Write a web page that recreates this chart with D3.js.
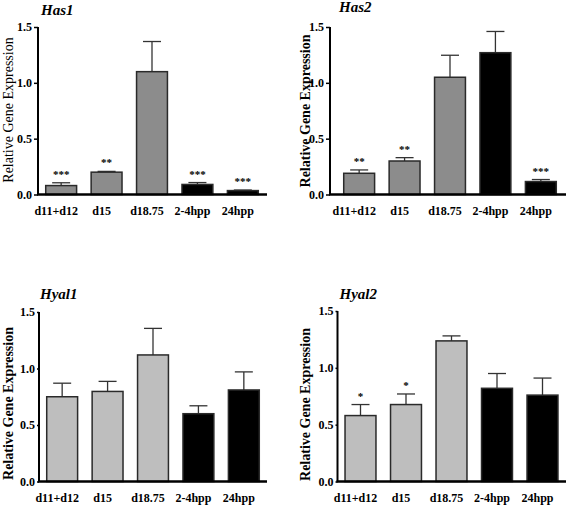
<!DOCTYPE html>
<html><head><meta charset="utf-8">
<script src="https://cdn.jsdelivr.net/npm/d3@7"></script>
<style>body{margin:0;background:#fff}svg{display:block}</style>
</head><body>
<svg id="c" width="566" height="526"></svg>
<script>
const categories = ["d11+d12","d15","d18.75","2-4hpp","24hpp"];
const yTicks = [0, 0.5, 1.0, 1.5];
const yTickLabels = ["0.0","0.5","1.0","1.5"];

const has1Mean = [0.08, 0.20, 1.10, 0.09, 0.035];
const has1Err  = [0.105, 0.207, 1.37, 0.107, 0.04];
const has1Sig  = ["***","**","","***","***"];

const has2Mean = [0.19, 0.30, 1.05, 1.27, 0.116];
const has2Err  = [0.22, 0.33, 1.247, 1.46, 0.134];
const has2Sig  = ["**","**","","","***"];

const hyal1Mean = [0.75, 0.797, 1.12, 0.60, 0.81];
const hyal1Err  = [0.87, 0.886, 1.355, 0.67, 0.97];
const hyal1Sig  = ["","","","",""];

const hyal2Mean = [0.58, 0.677, 1.237, 0.82, 0.76];
const hyal2Err  = [0.677, 0.77, 1.281, 0.95, 0.91];
const hyal2Sig  = ["*","*","","",""];

const svg = d3.select("#c");
const FONT = "Liberation Serif";

function panel(o){
  const g = svg.append("g");
  const y = d3.scaleLinear().domain([0,1.5]).range([o.y0, o.y15]);
  const x = d3.scaleBand().domain(categories).range([o.b0 - 7.25, o.b1 + 7.25])
              .paddingInner(0.32).paddingOuter(0.16);
  categories.forEach((c,i)=>{
    const fill = i >= 3 ? "#000" : o.fill;
    const cx = x(c) + x.bandwidth()/2;
    g.append("line").attr("x1",cx).attr("x2",cx).attr("y1",y(o.mean[i])).attr("y2",y(o.err[i]))
      .attr("stroke","#333").attr("stroke-width",1.3);
    g.append("line").attr("x1",cx-9).attr("x2",cx+9).attr("y1",y(o.err[i])).attr("y2",y(o.err[i]))
      .attr("stroke","#333").attr("stroke-width",1.3);
    g.append("rect").attr("x",x(c)).attr("width",x.bandwidth())
      .attr("y",y(o.mean[i])).attr("height",y(0)-y(o.mean[i]))
      .attr("fill",fill).attr("stroke","#2a2a2a").attr("stroke-width",1.5);
    if (o.sig[i]) {
      g.append("text").attr("x",cx).attr("y",y(o.err[i])-5).attr("text-anchor","middle")
        .attr("font-family",FONT).attr("font-size",11).attr("font-weight","bold").attr("fill","#000").text(o.sig[i]);
    }
    g.append("text").attr("x",cx-5).attr("y",o.y0+20).attr("text-anchor","middle")
      .attr("font-family",FONT).attr("font-size",12).attr("font-weight","bold").attr("fill","#000").text(c);
  });
  const ya = d3.axisLeft(y).tickValues(yTicks).tickFormat((d,i)=>yTickLabels[i])
    .tickSize(o.tick).tickPadding(2);
  const ag = g.append("g").attr("transform",`translate(${o.ax},0)`).call(ya);
  ag.select(".domain").attr("stroke","#000").attr("stroke-width",2).attr("d",`M0,${o.y15}V${o.y0}`);
  ag.selectAll(".tick line").attr("stroke","#000").attr("stroke-width",1.5);
  ag.selectAll(".tick text").attr("font-family",FONT).attr("font-size",12).attr("font-weight","bold").attr("fill","#000");
  g.append("line").attr("x1",o.ax-1).attr("x2",o.axEnd).attr("y1",o.y0).attr("y2",o.y0)
    .attr("stroke","#000").attr("stroke-width",2.5);
  g.append("text").attr("x",o.tx).attr("y",o.ty).attr("font-family",FONT).attr("font-size",15)
    .attr("font-weight","bold").attr("font-style","italic").attr("fill","#000").text(o.title);
  g.append("text").attr("transform",`translate(${o.lx},${o.ly}) rotate(-90)`).attr("text-anchor","middle")
    .attr("font-family",FONT).attr("font-size",14).attr("font-weight",o.lbold?"bold":"normal").attr("fill","#000")
    .text("Relative Gene Expression");
}

panel({title:"Has1", tx:41, ty:15, mean:has1Mean, err:has1Err, sig:has1Sig, fill:"#8c8c8c",
  ax:38, axEnd:267, y0:194.5, y15:27, b0:45.7, b1:258.3, tick:4, lx:13, ly:110, lbold:false});
panel({title:"Has2", tx:339, ty:11.5, mean:has2Mean, err:has2Err, sig:has2Sig, fill:"#8c8c8c",
  ax:330, axEnd:566, y0:194.5, y15:27, b0:343.7, b1:556.3, tick:4, lx:309.5, ly:111, lbold:true});
panel({title:"Hyal1", tx:40, ty:298.5, mean:hyal1Mean, err:hyal1Err, sig:hyal1Sig, fill:"#bebebe",
  ax:39, axEnd:267, y0:481.5, y15:312, b0:46.7, b1:259.3, tick:2, lx:13, ly:403.5, lbold:true});
panel({title:"Hyal2", tx:339.5, ty:298.5, mean:hyal2Mean, err:hyal2Err, sig:hyal2Sig, fill:"#bebebe",
  ax:337.5, axEnd:566, y0:481.5, y15:311, b0:345, b1:558, tick:2, lx:309.5, ly:404.5, lbold:true});
</script>
</body></html>
